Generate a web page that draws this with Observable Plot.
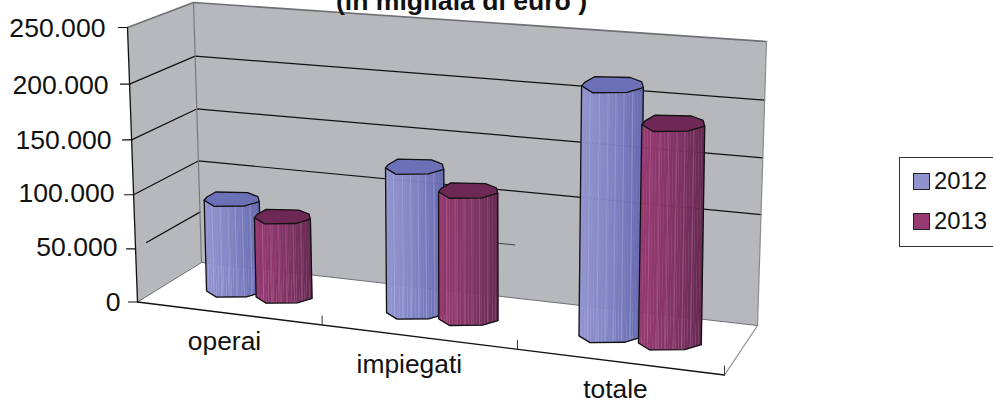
<!DOCTYPE html>
<html lang="it">
<head>
<meta charset="utf-8">
<script src="https://cdn.jsdelivr.net/npm/d3@7"></script>
<script src="https://cdn.jsdelivr.net/npm/@observablehq/plot@0.6"></script>
<style>
  html, body { margin: 0; padding: 0; background: #fff; overflow: hidden; }
  #wrap { position: relative; width: 993px; height: 401px; overflow: hidden; }
  #legend {
    position: absolute; left: 899px; top: 157px; width: 110px; height: 88px;
    border: 1px solid #333; background: #fff; box-sizing: content-box;
    font: 23.8px "Liberation Sans", Arial, sans-serif; color: #111;
  }
  #legend div { position: absolute; left: 13px; display: flex; align-items: center; height: 20px; }
  #legend i { display: block; width: 15px; height: 15px; border: 1px solid #222; margin-right: 4px; }
</style>
</head>
<body>
<div id="wrap"></div>
<script>
// Values, in thousands of euro
const categories = ["operai", "impiegati", "totale"];
const years = ["2012", "2013"];
const values2012 = [85000, 126000, 201000];
const values2013 = [73000, 109000, 173000];
const valueTicks = [0, 50000, 100000, 150000, 200000, 250000];
const tickLabels = ["0", "50.000", "100.000", "150.000", "200.000", "250.000"];
const titleLine = "(in migliaia di euro )";

// Column palettes: light side, dark side, cap, highlight
const palette = {
  2012: {light: "#9193cf", dark: "#6669b0", cap: "#6c70b6", line: "#b4b6e4"},
  2013: {light: "#963a72", dark: "#662a52", cap: "#6e2855", line: "#bd6f9f"}
};

// Perspective box: screen positions of the eight corners of the plot volume
const box = {
  frontLeft:  {floor: [137, 301.5], top: [127, 27]},
  backLeft:   {floor: [201, 262],   top: [193, 2]},
  backRight:  {floor: [757, 325],   top: [766, 41]},
  frontRight: {floor: [724, 374.5], top: [729, 4.5]}
};
const vMax = 250000;
const warp = (f, k) => f / (f + k * (1 - f));
const mix = (a, b, t) => [a[0] + (b[0] - a[0]) * t, a[1] + (b[1] - a[1]) * t];

// Projects (along the categories 0..1, depth 0..1, value) onto the screen
function project(u, d, v) {
  const tu = warp(u, 1.09), tv = warp(v / vMax, 1.04);
  const corner = (k) => mix(box[k].floor, box[k].top, tv);
  return mix(mix(corner("frontLeft"), corner("backLeft"), d), mix(corner("frontRight"), corner("backRight"), d), tu);
}

// Outline of a column section, in units of its half width and half depth
const ring = [[-1, -.15], [-.9, .3], [-.58, 1], [.58, .9], [.95, .35], [1, -.35], [.47, -.95], [-.64, -1]];
const frontEdge = [[-1, -.15], [-.64, -1], [.47, -.95], [1, -.35]];
const frontAt = d3.scaleLinear().domain(frontEdge.map((p) => p[0])).range(frontEdge.map((p) => p[1]));
const stripes = [-.72, -.42, -.14, .12, .38, .66];

const marks = [];
const poly = (points, style) => marks.push(Plot.line(points, {x: (p) => p[0], y: (p) => p[1], curve: "linear", ...style}));
const closed = (pts) => [...pts, pts[0]];

// Walls
const grey = "#b7b8bb", edge = "#77787c";
poly([project(0, 1, 0), project(0, 1, vMax), project(1, 1, vMax), project(1, 1, 0)], {fill: grey, stroke: "none"});
poly([project(0, 0, 0), project(0, 0, vMax), project(0, 1, vMax), project(0, 1, 0)], {fill: grey, stroke: "none"});

// Gridlines on the side and back walls
for (const v of valueTicks.slice(1, -1)) {
  const low = v === 50000;
  poly([project(0, low ? .17 : 0, v), project(0, 1, v)].concat(low ? [] : [project(1, 1, v)]), {stroke: "#111", strokeWidth: 1.2});
  if (low) poly([project(.55, 1, v), project(.584, 1, v)], {stroke: "#444", strokeWidth: 1});
}

// Wall and floor edges
const thin = {stroke: edge, strokeWidth: 1.2};
poly([project(0, 0, vMax), project(0, 1, vMax), project(1, 1, vMax)], {stroke: "#6f7074", strokeWidth: 1.6});
poly([project(0, 1, vMax), project(0, 1, 0)], thin);
poly([project(1, 1, vMax), project(1, 1, 0), project(1, 0, 0)], {stroke: "#8a8b8f", strokeWidth: 1.2});
poly([project(0, 0, 0), project(0, 1, 0), project(1, 1, 0)], {stroke: "#6f7074", strokeWidth: 1});

// Value axis with its ticks
poly([project(0, 0, 0), project(0, 0, vMax)], {stroke: "#111", strokeWidth: 1.3});
for (const v of valueTicks) {
  const p = project(0, 0, v);
  poly([[p[0] - 9, p[1]], p], {stroke: "#111", strokeWidth: 1.2});
}
marks.push(Plot.text(valueTicks, {
  x: (v) => project(0, 0, v)[0] - 22 + 5 * (1 - v / vMax),
  y: (v) => project(0, 0, v)[1] + (v > 100000 ? 1 : v ? -1 : 0),
  text: (v, i) => tickLabels[i],
  textAnchor: "end", fontSize: 26.6, fontFamily: "Liberation Sans, Arial, sans-serif", fill: "#111"
}));

// Category axis with its ticks
poly([project(0, 0, 0), project(1, 0, 0)], {stroke: "#111", strokeWidth: 1.3});
for (const c of [1, 2, 3]) {
  const p = project(c / 3, 0, 0);
  poly([p, [p[0], p[1] - 9]], {stroke: "#333", strokeWidth: 1});
}
const labelNudge = [-4, -9, -4];
marks.push(Plot.text(categories, {
  x: (c, i) => project((i + .5) / 3, 0, 0)[0] + labelNudge[i],
  y: (c, i) => project((i + .5) / 3, 0, 0)[1] + 28,
  text: (c) => c,
  fontSize: 26.4, fontFamily: "Liberation Sans, Arial, sans-serif", fill: "#111"
}));

// Faceted columns: shaded side strips, highlights, outline and cap
const halfWidth = .0515;
function column(u, value, colors) {
  const base = project(u, .5, 0), head = project(u, .5, value);
  const hw = (project(u + halfWidth, .5, 0)[0] - project(u - halfWidth, .5, 0)[0]) / 2;
  const hd = hw * .26;
  const at = (c, a, b) => [c[0] + a * hw, c[1] - b * hd];
  const shade = d3.interpolateRgb(colors.light, colors.dark);
  const strips = 22;
  for (let i = 0; i < strips; i++) {
    const a0 = -1 + 2 * i / strips, a1 = -1 + 2 * (i + 1) / strips;
    const c = shade(Math.pow((i + .5) / strips, 1.3));
    poly([at(base, a0, frontAt(a0)), at(base, a1, frontAt(a1)), at(head, a1, frontAt(a1)), at(head, a0, frontAt(a0))],
      {fill: c, stroke: c, strokeWidth: .5});
  }
  for (const a of stripes) {
    poly([at(base, a, frontAt(a)), at(head, a, frontAt(a))], {stroke: colors.line, strokeWidth: .8, strokeOpacity: .55});
  }
  const bottom = frontEdge.map(([a, b]) => at(base, a, b));
  poly([at(head, -1, -.15), ...bottom, at(head, 1, -.35)], {stroke: "#111", strokeWidth: 1.3});
  poly(closed(ring.map(([a, b]) => at(head, a, b))), {fill: colors.cap, stroke: "#111", strokeWidth: 1.3});
}
// Distance of each pair of columns from the middle of its category
const columnOffsets = [[.0447, .048], [.048, .0445], [.048, .0513]];
categories.forEach((c, i) => {
  const mid = (i + .5) / 3;
  column(mid - columnOffsets[i][0], values2012[i], palette[2012]);
  column(mid + columnOffsets[i][1], values2013[i], palette[2013]);
});

// Title, whose upper part runs past the top of the frame
marks.push(Plot.text([titleLine], {
  frameAnchor: "top-left", dx: 461, dy: -9, textAnchor: "middle", lineAnchor: "top",
  text: (d) => d, fontSize: 26.6, fontWeight: "bold", fontFamily: "Liberation Sans, Arial, sans-serif", fill: "#111"
}));

const chart = Plot.plot({
  width: 993, height: 401, margin: 0,
  style: {background: "#fff", overflow: "hidden"},
  x: {domain: [0, 993], range: [0, 993], axis: null},
  y: {domain: [0, 401], range: [0, 401], axis: null},
  marks
});
const wrap = document.getElementById("wrap");
wrap.appendChild(chart);

// Legend box, clipped at the right of the frame
const legend = document.createElement("div");
legend.id = "legend";
years.forEach((y, i) => {
  const row = document.createElement("div");
  row.style.top = (i ? 53 : 13) + "px";
  const swatch = document.createElement("i");
  swatch.style.background = palette[y].light;
  row.append(swatch, y);
  legend.appendChild(row);
});
wrap.appendChild(legend);
</script>
</body>
</html>
